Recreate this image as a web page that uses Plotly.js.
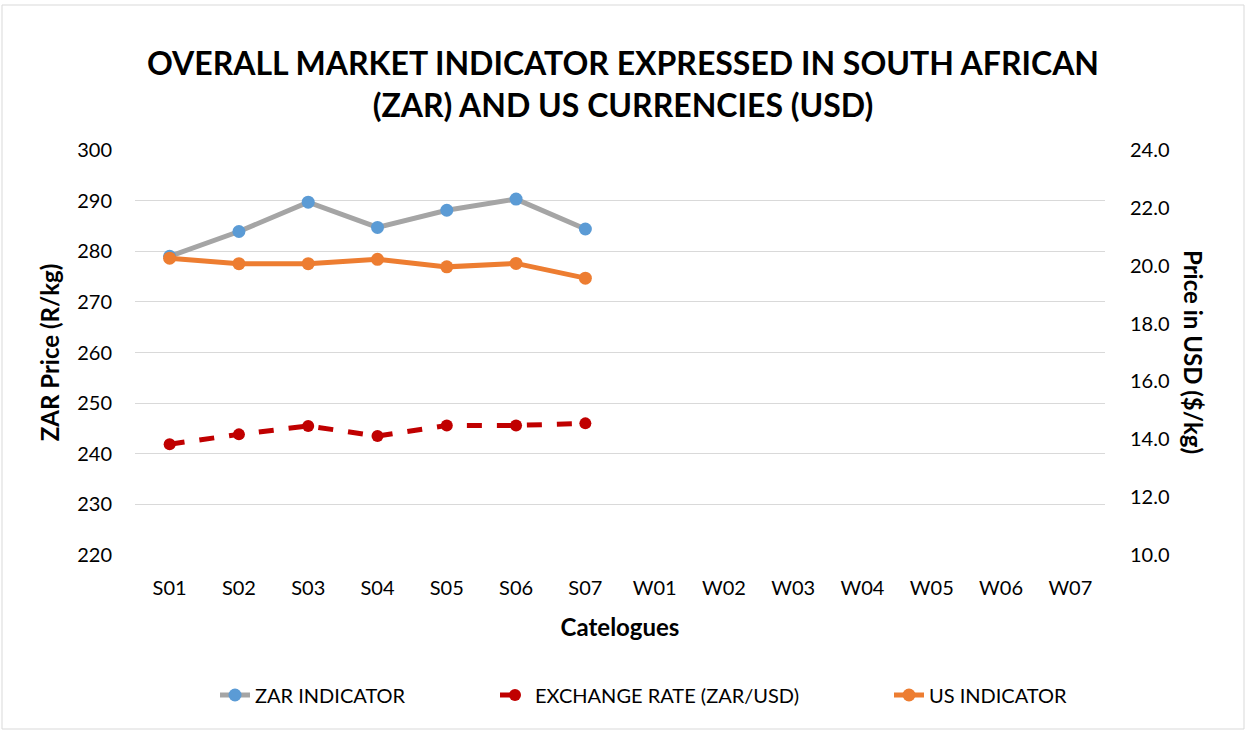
<!DOCTYPE html>
<html>
<head>
<meta charset="utf-8">
<script src="https://cdn.plot.ly/plotly-3.0.1.min.js"></script>
<style>html,body{margin:0;padding:0;background:#fff;} #chart{width:1246px;height:731px;}</style>
</head>
<body>
<div id="chart"></div>
<script>
const categories = ["S01","S02","S03","S04","S05","S06","S07","W01","W02","W03","W04","W05","W06","W07"];
const zarIndicator = [279.0, 283.9, 289.7, 284.7, 288.1, 290.3, 284.4];
const exchangeRate = [13.83, 14.17, 14.46, 14.11, 14.48, 14.48, 14.55];
const usIndicator = [20.26, 20.07, 20.07, 20.22, 19.96, 20.08, 19.57];
const leftTicks = [220, 230, 240, 250, 260, 270, 280, 290, 300];
const rightTicks = [10, 12, 14, 16, 18, 20, 22, 24];

const FONT = "Lato, 'Open Sans', sans-serif";
const pad = (arr) => arr.concat(new Array(categories.length - arr.length).fill(null));

const W = 970, H = 405, L = 135, T = 150;
const px = (x) => (x - L) / W;
const py = (y) => (T + H - y) / H;

const traces = [
  {
    name: "ZAR INDICATOR", x: categories, y: pad(zarIndicator), yaxis: "y", legend: "legend", showlegend: true,
    type: "scatter", mode: "lines+markers",
    line: {color: "#a5a5a5", width: 5},
    marker: {color: "#5b9bd5", size: 13}
  },
  {
    name: "EXCHANGE RATE (ZAR/USD)", x: categories, y: pad(exchangeRate), yaxis: "y2", legend: "legend2", showlegend: true,
    type: "scatter", mode: "lines+markers",
    line: {color: "#c00000", width: 5, dash: "dash"},
    marker: {color: "#c00000", size: 12}
  },
  {
    name: "US INDICATOR", x: categories, y: pad(usIndicator), yaxis: "y2", legend: "legend3", showlegend: true,
    type: "scatter", mode: "lines+markers",
    line: {color: "#ed7d31", width: 5},
    marker: {color: "#ed7d31", size: 13}
  }
];

const legendBase = (x) => ({
  orientation: "h", x: px(x), xanchor: "left", y: py(695), yanchor: "middle",
  font: {family: FONT, size: 20, color: "#000"}, bgcolor: "rgba(0,0,0,0)"
});

const layout = {
  width: 1246, height: 731,
  showlegend: true,
  margin: {l: L, r: 141, t: T, b: 176},
  paper_bgcolor: "#fff", plot_bgcolor: "#fff",
  font: {family: FONT, color: "#000", size: 20},
  title: {
    text: "<b>OVERALL MARKET INDICATOR EXPRESSED IN SOUTH AFRICAN<br>(ZAR) AND US CURRENCIES (USD)</b>",
    font: {family: FONT, size: 32, color: "#000"},
    x: 0.5, xanchor: "center", y: 1 - 75 / 731, yanchor: "middle"
  },
  xaxis: {
    type: "category", categoryorder: "array", categoryarray: categories,
    range: [-0.5, categories.length - 0.5],
    showgrid: false, zeroline: false, showline: false, ticks: "", ticklabelstandoff: 19,
    tickfont: {family: FONT, size: 20, color: "#000"},
    title: {text: "<b>Catelogues</b>", font: {family: FONT, size: 24, color: "#000"}, standoff: 21}
  },
  yaxis: {
    range: [220, 300], tickvals: leftTicks, ticktext: leftTicks.map(String),
    showgrid: true, gridcolor: "#d9d9d9", gridwidth: 1, zeroline: false, showline: false,
    tickfont: {family: FONT, size: 20, color: "#000"}, ticks: "", ticklabelstandoff: 22,
    title: {text: "<b>ZAR Price (R/kg)</b>", font: {family: FONT, size: 24, color: "#000"}, standoff: 10}
  },
  yaxis2: {
    range: [10, 24], tickvals: rightTicks, ticktext: rightTicks.map(v => v.toFixed(1)),
    overlaying: "y", side: "right", showgrid: false, zeroline: false, showline: false,
    tickfont: {family: FONT, size: 20, color: "#000"}, ticks: "", ticklabelstandoff: 24
  },
  legend: legendBase(215),
  legend2: legendBase(495),
  legend3: legendBase(889),
  annotations: [{
    text: "<b>Price in USD ($/kg)</b>", xref: "paper", yref: "paper",
    x: px(1194), y: py(352), xanchor: "center", yanchor: "middle",
    textangle: 90, showarrow: false, font: {family: FONT, size: 24, color: "#000"}
  }],
  shapes: [{
    type: "rect", xref: "paper", yref: "paper",
    x0: px(2), x1: px(1244), y0: py(729), y1: py(5),
    line: {color: "#d9d9d9", width: 1}, fillcolor: "rgba(0,0,0,0)", layer: "below"
  }]
};

Plotly.newPlot("chart", traces, layout, {displayModeBar: false, staticPlot: true});
</script>
</body>
</html>
